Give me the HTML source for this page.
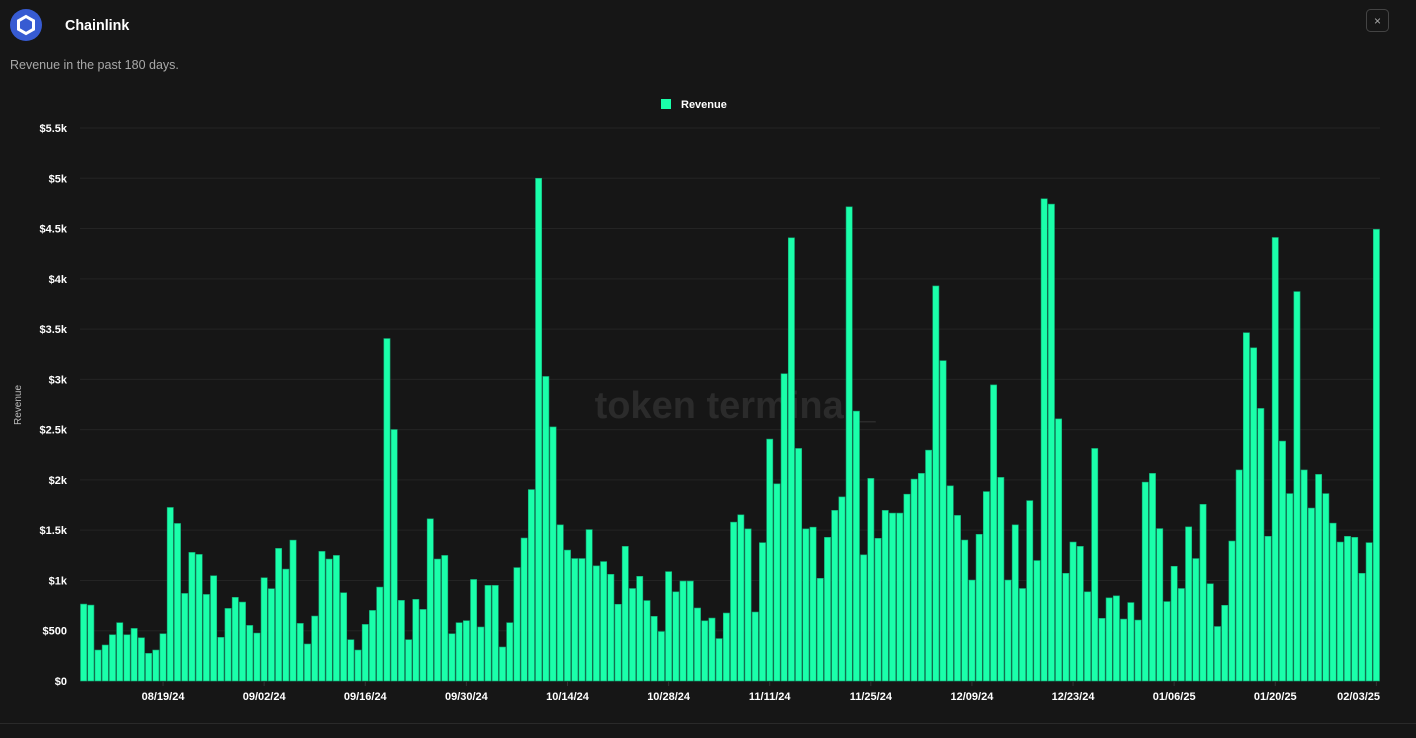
<!DOCTYPE html>
<html><head><meta charset="utf-8"><style>
html,body{margin:0;padding:0;background:#161616;width:1416px;height:738px;overflow:hidden;font-family:"Liberation Sans",sans-serif;}
</style></head><body>
<svg width="1416" height="738" xmlns="http://www.w3.org/2000/svg">
<rect x="0" y="0" width="1416" height="738" fill="#161616"/>
<g>
<circle cx="26" cy="25" r="16" fill="#375bd2"/>
<polygon points="26,16.5 33.5,20.8 33.5,29.2 26,33.5 18.5,29.2 18.5,20.8" fill="none" stroke="#fff" stroke-width="3"/>
</g>
<text x="65" y="30" fill="#fff" font-size="14.3" font-weight="bold">Chainlink</text>
<g>
<rect x="1366.5" y="9.5" width="22" height="22" rx="4" fill="none" stroke="#444"/>
<text x="1377.5" y="25" fill="#aaa" font-size="12" text-anchor="middle">×</text>
</g>
<text x="10" y="69" fill="#a8a8a8" font-size="12.5">Revenue in the past 180 days.</text>
<g>
<rect x="661" y="99" width="10" height="10" fill="#1affaa"/>
<text x="681" y="108" fill="#fff" font-size="11" font-weight="bold">Revenue</text>
</g>
<text transform="translate(21,405) rotate(-90)" fill="#bbb" font-size="10" text-anchor="middle">Revenue</text>
<text x="735" y="418" fill="#2b2b2b" font-size="38" font-weight="bold" text-anchor="middle">token terminal_</text>
<g id="grid"></g>
<g id="yticks"></g>
<g id="bars"></g>
<g id="xticks"></g>
<line x1="0" y1="723.5" x2="1416" y2="723.5" stroke="#2a2a2a"/>
</svg>
<script>
const revenue = [765,755,308,358,460,580,460,523,430,275,308,470,1726,1567,871,1279,1259,861,1047,434,722,832,785,553,477,1027,918,1319,1113,1401,573,368,646,1289,1213,1249,878,411,308,563,702,934,3406,2501,802,411,812,712,1613,1213,1249,470,580,600,1010,537,951,951,338,580,1128,1422,1904,5000,3029,2527,1553,1302,1218,1218,1506,1145,1188,1061,763,1339,920,1041,800,643,492,1088,887,994,994,726,599,626,422,676,1580,1653,1513,686,1376,2406,1961,3056,4408,2313,1513,1530,1021,1429,1697,1831,4716,2684,1255,2015,1419,1697,1670,1670,1858,2008,2065,2296,3929,3186,1941,1647,1402,1004,1459,1884,2945,2025,1004,1553,920,1794,1198,4796,4743,2607,1071,1382,1339,887,2313,623,827,847,616,780,606,1978,2065,1516,790,1141,920,1533,1218,1757,967,542,753,1392,2099,3464,3314,2711,1439,4411,2386,1864,3873,2099,1720,2055,1864,1570,1382,1439,1429,1071,1376,4492];
const yTicks = [0,500,1000,1500,2000,2500,3000,3500,4000,4500,5000,5500];
const yTickLabels = ["$0","$500","$1k","$1.5k","$2k","$2.5k","$3k","$3.5k","$4k","$4.5k","$5k","$5.5k"];
const xTickIndex = [11,25,39,53,67,81,95,109,123,137,151,165,179];
const xTickLabels = ["08/19/24","09/02/24","09/16/24","09/30/24","10/14/24","10/28/24","11/11/24","11/25/24","12/09/24","12/23/24","01/06/25","01/20/25","02/03/25"];
const NS="http://www.w3.org/2000/svg";
const plotL=80, plotR=1380, y0=681, yMax=5500, yTop=128;
const step=(plotR-plotL)/revenue.length;
function yScale(v){return y0-(v/yMax)*(y0-yTop);}
function xCenter(i){return plotL+step*(i+0.5);}
const grid=document.getElementById('grid'), yt=document.getElementById('yticks'), bars=document.getElementById('bars'), xt=document.getElementById('xticks');
yTicks.forEach((v,k)=>{
  const y=yScale(v);
  if(v>0){const l=document.createElementNS(NS,'line');
  l.setAttribute('x1',plotL);l.setAttribute('x2',plotR);l.setAttribute('y1',y);l.setAttribute('y2',y);
  l.setAttribute('stroke','#242424');
  
  
  grid.appendChild(l);}
  const t=document.createElementNS(NS,'text');
  t.setAttribute('x',67);t.setAttribute('y',y+4);t.setAttribute('text-anchor','end');
  t.setAttribute('fill','#fff');t.setAttribute('font-size','11');t.setAttribute('font-weight','bold');
  t.textContent=yTickLabels[k];
  
  
  yt.appendChild(t);
});
revenue.forEach((v,i)=>{
  const r=document.createElementNS(NS,'rect');
  const y=yScale(v);
  r.setAttribute('x',xCenter(i)-step/2+0.5);r.setAttribute('width',step-1);
  r.setAttribute('y',y);r.setAttribute('height',y0-y);
  r.setAttribute('fill','#1affaa');r.setAttribute('stroke','#12a874');r.setAttribute('stroke-width','0.6');
  
  
  bars.appendChild(r);
});
xTickIndex.forEach((idx,k)=>{
  const x=xCenter(idx);
  const l=document.createElementNS(NS,'line');
  l.setAttribute('x1',x);l.setAttribute('x2',x);l.setAttribute('y1',y0);l.setAttribute('y2',y0+5);
  l.setAttribute('stroke','#333');
  
  
  xt.appendChild(l);
  const t=document.createElementNS(NS,'text');
  const last=(k===xTickIndex.length-1);
  t.setAttribute('x',last?plotR:x);t.setAttribute('y',700);
  t.setAttribute('text-anchor',last?'end':'middle');
  t.setAttribute('fill','#fff');t.setAttribute('font-size','11');t.setAttribute('font-weight','bold');
  t.textContent=xTickLabels[k];
  
  
  xt.appendChild(t);
});
</script>
</body></html>
